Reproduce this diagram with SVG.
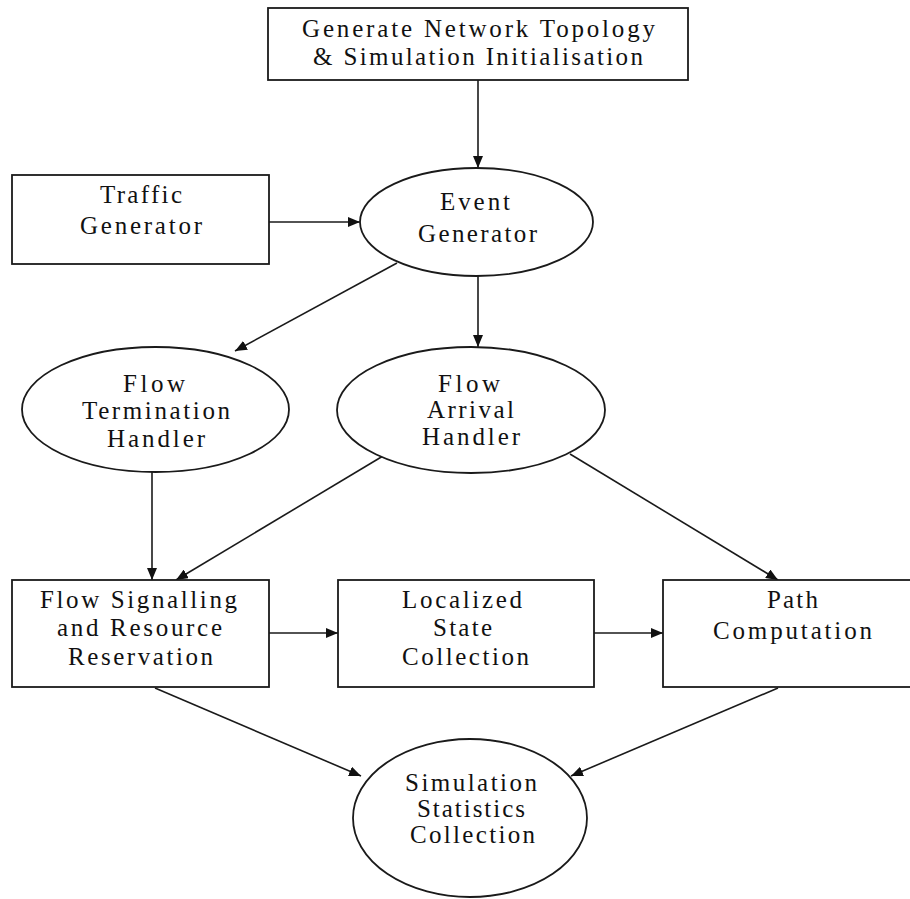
<svg xmlns="http://www.w3.org/2000/svg" width="910" height="899" viewBox="0 0 910 899">
<defs>
<style>
.s{fill:#fff;stroke:#1a1a1a;stroke-width:1.8}
.t{font-family:"Liberation Serif","Times New Roman",serif;font-size:25px;fill:#111;text-anchor:middle}
.c{stroke:#1a1a1a;stroke-width:1.6;fill:none;marker-end:url(#ah)}
</style>
<marker id="ah" viewBox="0 0 12 10" refX="12" refY="5" markerWidth="12" markerHeight="10" markerUnits="userSpaceOnUse" orient="auto">
<path d="M0,0 L12,5 L0,10 Z" fill="#111"/>
</marker>
</defs>
<rect width="910" height="899" fill="#fff"/>
<g id="connectors">
<line class="c" x1="478" y1="80" x2="478" y2="168"/>
<line class="c" x1="269" y1="222" x2="360" y2="222"/>
<line class="c" x1="397" y1="263" x2="235" y2="351"/>
<line class="c" x1="478" y1="276" x2="478" y2="347"/>
<line class="c" x1="152" y1="472" x2="152" y2="580"/>
<line class="c" x1="383" y1="456" x2="176" y2="580"/>
<line class="c" x1="570" y1="454" x2="778" y2="580"/>
<line class="c" x1="269" y1="633" x2="338" y2="633"/>
<line class="c" x1="594" y1="633" x2="663" y2="633"/>
<line class="c" x1="155" y1="688" x2="361" y2="776"/>
<line class="c" x1="778" y1="688" x2="571" y2="776"/>
</g>
<g id="init">
<rect class="s" x="268" y="8" width="420" height="72"/>
<text class="t" x="478.5" y="37" textLength="353" lengthAdjust="spacing">Generate Network Topology</text>
<text class="t" x="478" y="65" textLength="330" lengthAdjust="spacing">&amp; Simulation Initialisation</text>
</g>
<g id="traffic">
<rect class="s" x="12" y="175" width="257" height="89"/>
<text class="t" x="141" y="203" textLength="82" lengthAdjust="spacing">Traffic</text>
<text class="t" x="141" y="234" textLength="122" lengthAdjust="spacing">Generator</text>
</g>
<g id="event">
<ellipse class="s" cx="476.5" cy="222" rx="116.5" ry="54"/>
<text class="t" x="475" y="210" textLength="70" lengthAdjust="spacing">Event</text>
<text class="t" x="477.5" y="242" textLength="119" lengthAdjust="spacing">Generator</text>
</g>
<g id="termination">
<ellipse class="s" cx="155.5" cy="409.5" rx="133.5" ry="62.5"/>
<text class="t" x="154" y="392" textLength="62" lengthAdjust="spacing">Flow</text>
<text class="t" x="156" y="419" textLength="148" lengthAdjust="spacing">Termination</text>
<text class="t" x="156" y="447" textLength="98" lengthAdjust="spacing">Handler</text>
</g>
<g id="arrival">
<ellipse class="s" cx="471" cy="410" rx="134" ry="63"/>
<text class="t" x="469" y="392" textLength="62" lengthAdjust="spacing">Flow</text>
<text class="t" x="470.5" y="418" textLength="87" lengthAdjust="spacing">Arrival</text>
<text class="t" x="471" y="445" textLength="98" lengthAdjust="spacing">Handler</text>
</g>
<g id="signalling">
<rect class="s" x="12" y="580" width="257" height="107"/>
<text class="t" x="138.5" y="608" textLength="197" lengthAdjust="spacing">Flow Signalling</text>
<text class="t" x="139.5" y="636" textLength="165" lengthAdjust="spacing">and Resource</text>
<text class="t" x="140.5" y="665" textLength="145" lengthAdjust="spacing">Reservation</text>
</g>
<g id="localized">
<rect class="s" x="338" y="580" width="256" height="107"/>
<text class="t" x="462" y="608" textLength="120" lengthAdjust="spacing">Localized</text>
<text class="t" x="462.5" y="636" textLength="59" lengthAdjust="spacing">State</text>
<text class="t" x="465.5" y="665" textLength="127" lengthAdjust="spacing">Collection</text>
</g>
<g id="path">
<rect class="s" x="663" y="580" width="270" height="107"/>
<text class="t" x="792.5" y="608" textLength="51" lengthAdjust="spacing">Path</text>
<text class="t" x="792.5" y="639" textLength="159" lengthAdjust="spacing">Computation</text>
</g>
<g id="statistics">
<ellipse class="s" cx="470" cy="818" rx="117" ry="79"/>
<text class="t" x="471" y="791" textLength="132" lengthAdjust="spacing">Simulation</text>
<text class="t" x="471" y="817" textLength="108" lengthAdjust="spacing">Statistics</text>
<text class="t" x="472.5" y="843" textLength="125" lengthAdjust="spacing">Collection</text>
</g>
</svg>
